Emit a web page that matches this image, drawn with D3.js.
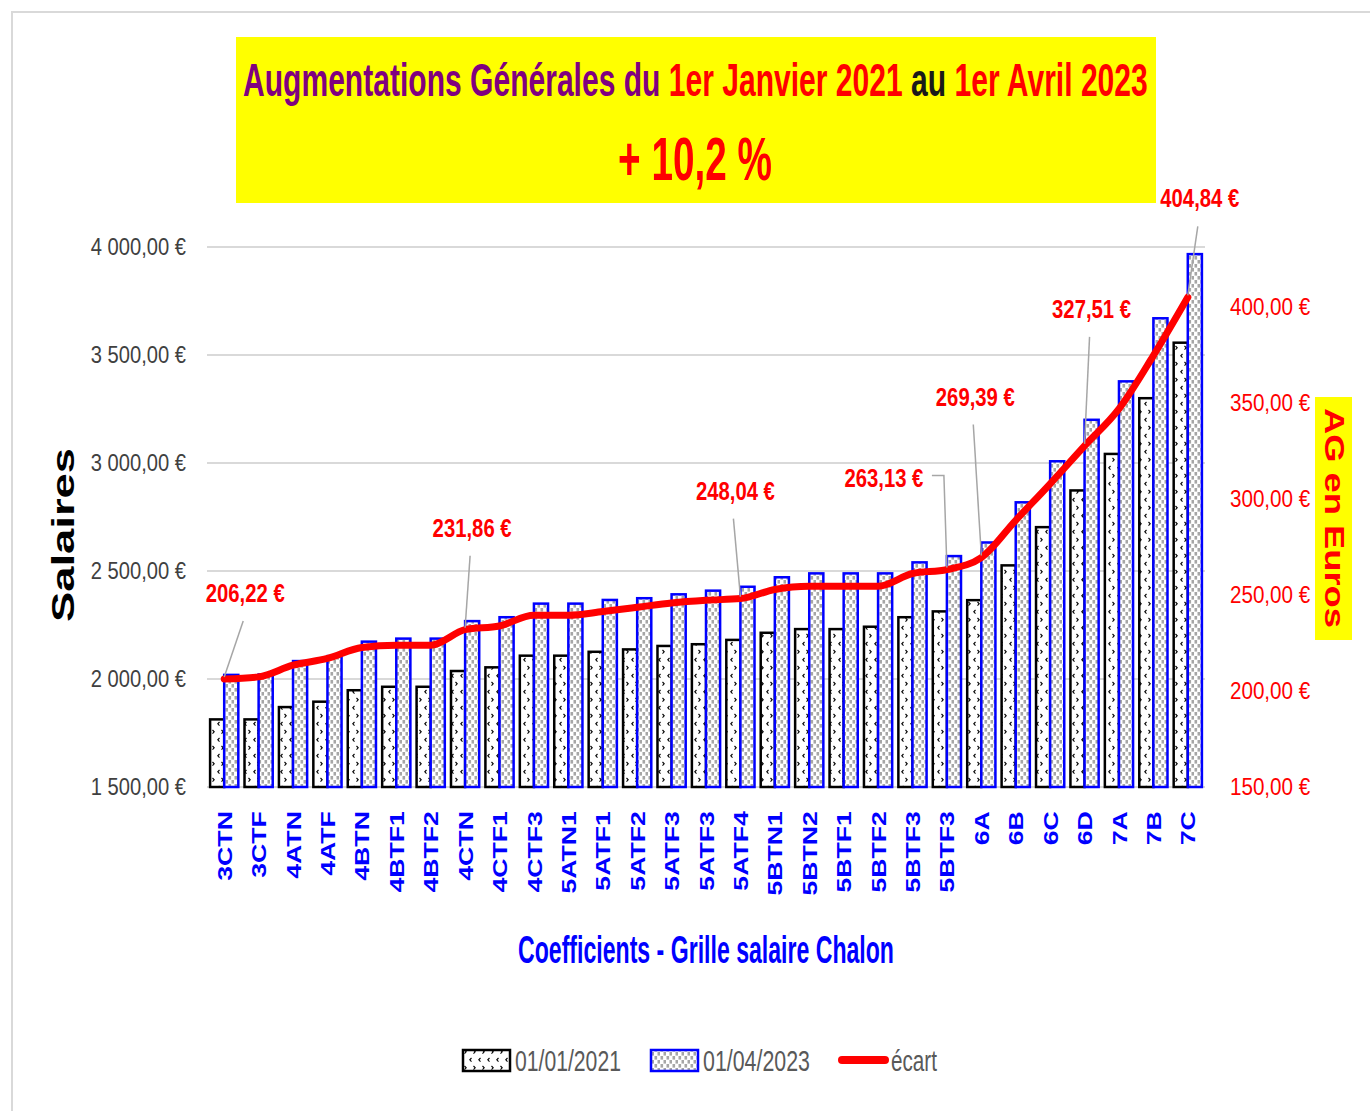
<!DOCTYPE html>
<html lang="fr">
<head>
<meta charset="utf-8">
<title>Augmentations Générales - Grille salaire Chalon</title>
<script src="https://cdn.jsdelivr.net/npm/d3@7"></script>
<style>
  body { margin: 0; background: #fff; }
  svg text { font-family: "Liberation Sans", Arial, sans-serif; }
</style>
</head>
<body>
<div id="chart"></div>
<script>
// valeurs
const coefficients = ["3CTN", "3CTF", "4ATN", "4ATF", "4BTN", "4BTF1", "4BTF2", "4CTN", "4CTF1", "4CTF3",
  "5ATN1", "5ATF1", "5ATF2", "5ATF3", "5ATF3", "5ATF4", "5BTN1", "5BTN2", "5BTF1", "5BTF2",
  "5BTF3", "5BTF3", "6A", "6B", "6C", "6D", "7A", "7B", "7C"];
const salaires2021 = [1813, 1813, 1870, 1895, 1948, 1964, 1964, 2037, 2054, 2108,
  2108, 2126, 2137, 2153, 2161, 2181, 2214, 2231, 2231, 2242,
  2286, 2313, 2365, 2526, 2703, 2873, 3042, 3300, 3557];
const salaires2023 = [2019, 2021, 2083, 2106, 2173, 2187, 2187, 2268, 2286, 2349,
  2349, 2366, 2374, 2392, 2409, 2427, 2471, 2489, 2489, 2489,
  2540, 2569, 2632, 2818, 3008, 3200, 3378, 3670, 3967];
const ecarts = [206.22, 207.3, 213.4, 216.9, 222.6, 223.8, 223.8, 231.86, 233.8, 239.4,
  239.4, 241.3, 243.5, 245.8, 247.2, 248.04, 252.8, 254.5, 254.5, 254.5,
  261.1, 263.13, 269.39, 288.8, 307.8, 327.51, 346.8, 374.5, 404.84];
const ticksSalaires = [1500, 2000, 2500, 3000, 3500, 4000];
const ticksEcarts = [150, 200, 250, 300, 350, 400];
const etiquettes = [0, 7, 15, 21, 22, 25, 28];
// decalage des etiquettes par rapport au point (mise en page)
const decalages = [[21, -86], [7, -102], [-5, -108], [-63, -92], [-6, -161], [7, -137], [12, -99]];

const width = 1370, height = 1111;
const plotLeft = 207, plotRight = 1205, plotTop = 247, plotBottom = 787;

const fr = d3.formatLocale({decimal: ",", thousands: " ", grouping: [3], currency: ["", " €"]});
const euro = fr.format(",.2f");
const fmt = v => euro(v) + " €";

const svg = d3.select("#chart").append("svg")
  .attr("width", width).attr("height", height)
  .attr("viewBox", [0, 0, width, height]);

// motifs des barres
const defs = svg.append("defs");
const pNoir = defs.append("pattern").attr("id", "motifNoir")
  .attr("patternUnits", "userSpaceOnUse").attr("width", 9).attr("height", 16);
pNoir.append("rect").attr("width", 9).attr("height", 16).attr("fill", "#fff");
pNoir.append("path").attr("d", "M3.5,2 L1.8,3.8 L3.5,5.6").attr("fill", "none").attr("stroke", "#000").attr("stroke-width", 1.1);
pNoir.append("path").attr("d", "M5.5,10 L7.2,11.8 L5.5,13.6").attr("fill", "none").attr("stroke", "#000").attr("stroke-width", 1.1);

const pGris = defs.append("pattern").attr("id", "motifGris")
  .attr("patternUnits", "userSpaceOnUse").attr("width", 6).attr("height", 8);
pGris.append("rect").attr("width", 6).attr("height", 8).attr("fill", "#fff");
pGris.append("rect").attr("x", 0.5).attr("y", 0).attr("width", 2.6).attr("height", 3.6).attr("fill", "#a6a6a6");
pGris.append("rect").attr("x", 3.5).attr("y", 4).attr("width", 2.6).attr("height", 3.6).attr("fill", "#a6a6a6");

// cadre
svg.append("rect").attr("x", 12).attr("y", 12).attr("width", 1400).attr("height", 1150)
  .attr("fill", "none").attr("stroke", "#d9d9d9").attr("stroke-width", 2);

// ajuste la largeur d'un texte par etirement horizontal
function fit(sel, x, y, w, rot) {
  const len = sel.node().getBBox().width;
  sel.attr("transform", `translate(${x},${y})` + (rot ? ` rotate(${rot})` : "") + ` scale(${w / len},1)`);
  return sel;
}

// titre
svg.append("rect").attr("x", 236).attr("y", 37).attr("width", 920).attr("height", 166).attr("fill", "#ffff00");
const titre = svg.append("text").attr("font-size", 46).attr("font-weight", "bold");
titre.append("tspan").attr("fill", "#800080").text("Augmentations Générales du ");
titre.append("tspan").attr("fill", "#ff0000").text("1er Janvier 2021 ");
titre.append("tspan").attr("fill", "#1a1a1a").text("au ");
titre.append("tspan").attr("fill", "#ff0000").text("1er Avril 2023");
fit(titre, 243, 96, 905);
const pct = svg.append("text").attr("font-size", 62).attr("font-weight", "bold")
  .attr("fill", "#ff0000").text("+ 10,2 %");
fit(pct, 618, 180, 154);

// echelles
const x = d3.scaleBand().domain(d3.range(coefficients.length))
  .range([plotLeft, plotRight]).paddingInner(0.18).paddingOuter(0.09);
const y = d3.scaleLinear().domain([1500, 4000]).range([plotBottom, plotTop]);
const y2 = d3.scaleLinear().domain([150, 431]).range([plotBottom, plotTop]);
const bw = x.bandwidth() / 2;

// grille
svg.append("g").selectAll("line").data(ticksSalaires).join("line")
  .attr("x1", plotLeft).attr("x2", plotRight)
  .attr("y1", d => y(d)).attr("y2", d => y(d))
  .attr("stroke", "#d9d9d9").attr("stroke-width", 2);

// barres
svg.append("g").selectAll("rect").data(salaires2021).join("rect")
  .attr("x", (d, i) => x(i)).attr("y", d => y(d))
  .attr("width", bw).attr("height", d => plotBottom - y(d))
  .attr("fill", "url(#motifNoir)").attr("stroke", "#000").attr("stroke-width", 2.5);
svg.append("g").selectAll("rect").data(salaires2023).join("rect")
  .attr("x", (d, i) => x(i) + bw).attr("y", d => y(d))
  .attr("width", bw).attr("height", d => plotBottom - y(d))
  .attr("fill", "url(#motifGris)").attr("stroke", "#0000ff").attr("stroke-width", 2.5);

// courbe des ecarts
const ligne = d3.line().x((d, i) => x(i) + bw).y(d => y2(d)).curve(d3.curveMonotoneX);
svg.append("path").datum(ecarts).attr("d", ligne)
  .attr("fill", "none").attr("stroke", "#ff0000").attr("stroke-width", 7)
  .attr("stroke-linejoin", "round").attr("stroke-linecap", "round");

// etiquettes et lignes de rappel
etiquettes.forEach((i, k) => {
  const px = x(i) + bw, py = y2(ecarts[i]);
  const lx = px + decalages[k][0], ly = py + decalages[k][1];
  const t = svg.append("text").attr("font-size", 26).attr("font-weight", "bold")
    .attr("fill", "#ff0000").attr("text-anchor", "middle").attr("dy", "0.35em")
    .text(fmt(ecarts[i]));
  fit(t, lx, ly, 79);
  let pts;
  if (k === 3) pts = [[lx + 48, ly - 2], [px - 3, ly - 2], [px, py - 2]];
  else pts = [[lx - 2, ly + 28], [px, py - 2]];
  svg.append("path").attr("d", d3.line()(pts)).attr("fill", "none")
    .attr("stroke", "#a6a6a6").attr("stroke-width", 1.5);
});

// axe gauche
const axeG = svg.append("g").attr("transform", `translate(${plotLeft},0)`)
  .call(d3.axisLeft(y).tickValues(ticksSalaires).tickFormat(fmt).tickSize(0).tickPadding(25));
axeG.select(".domain").remove();
axeG.selectAll("text").attr("font-size", 24).attr("fill", "#404040")
  .attr("font-family", "Liberation Sans, Arial, sans-serif").attr("transform", "scale(0.84,1)");

// axe droit
const axeD = svg.append("g").attr("transform", `translate(${plotRight},0)`)
  .call(d3.axisRight(y2).tickValues(ticksEcarts).tickFormat(fmt).tickSize(0).tickPadding(29));
axeD.select(".domain").remove();
axeD.selectAll("text").attr("font-size", 24).attr("fill", "#ff0000")
  .attr("font-family", "Liberation Sans, Arial, sans-serif").attr("transform", "scale(0.86,1)");

// axe des coefficients
const axeX = svg.append("g").attr("transform", `translate(0,${plotBottom})`)
  .call(d3.axisBottom(x).tickFormat(i => coefficients[i]).tickSize(0));
axeX.select(".domain").remove();
axeX.selectAll("text").attr("font-size", 21).attr("font-weight", "bold").attr("fill", "#0000ff")
  .attr("font-family", "DejaVu Sans, Verdana, sans-serif")
  .attr("text-anchor", "end").attr("x", -19).attr("y", 0).attr("dy", "0.36em")
  .attr("transform", "rotate(-90) scale(1.27,1)");

// titres des axes
const tx = svg.append("text").attr("font-size", 38).attr("font-weight", "bold")
  .attr("fill", "#0000ff").attr("text-anchor", "middle")
  .text("Coefficients - Grille salaire Chalon");
fit(tx, 706, 963, 376);

const ty = svg.append("text").attr("font-size", 32).attr("font-weight", "bold")
  .attr("fill", "#000").attr("text-anchor", "middle").attr("dy", "0.36em")
  .attr("font-family", "DejaVu Sans, Arial, sans-serif")
  .text("Salaires");
fit(ty, 62, 535, 174, -90);

svg.append("rect").attr("x", 1315).attr("y", 397).attr("width", 37).attr("height", 243).attr("fill", "#ffff00");
const ty2 = svg.append("text").attr("font-size", 27).attr("font-weight", "bold")
  .attr("fill", "#ff0000").attr("text-anchor", "middle").attr("dy", "0.36em")
  .attr("font-family", "DejaVu Sans, Arial, sans-serif")
  .text("AG en Euros");
fit(ty2, 1335, 518, 220, 90);

// legende
const leg = svg.append("g");
leg.append("rect").attr("x", 463).attr("y", 1050).attr("width", 47).attr("height", 21)
  .attr("fill", "url(#motifNoir)").attr("stroke", "#000").attr("stroke-width", 2.5);
leg.append("rect").attr("x", 651).attr("y", 1050).attr("width", 47).attr("height", 21)
  .attr("fill", "url(#motifGris)").attr("stroke", "#0000ff").attr("stroke-width", 2.5);
leg.append("line").attr("x1", 842).attr("x2", 885).attr("y1", 1060).attr("y2", 1060)
  .attr("stroke", "#ff0000").attr("stroke-width", 8).attr("stroke-linecap", "round");
[["01/01/2021", 515, 106], ["01/04/2023", 703, 107], ["écart", 891, 46]].forEach(([s, lx, w]) => {
  const t = leg.append("text").attr("font-size", 29).attr("fill", "#595959").text(s);
  fit(t, lx, 1071, w);
});
</script>
</body>
</html>
